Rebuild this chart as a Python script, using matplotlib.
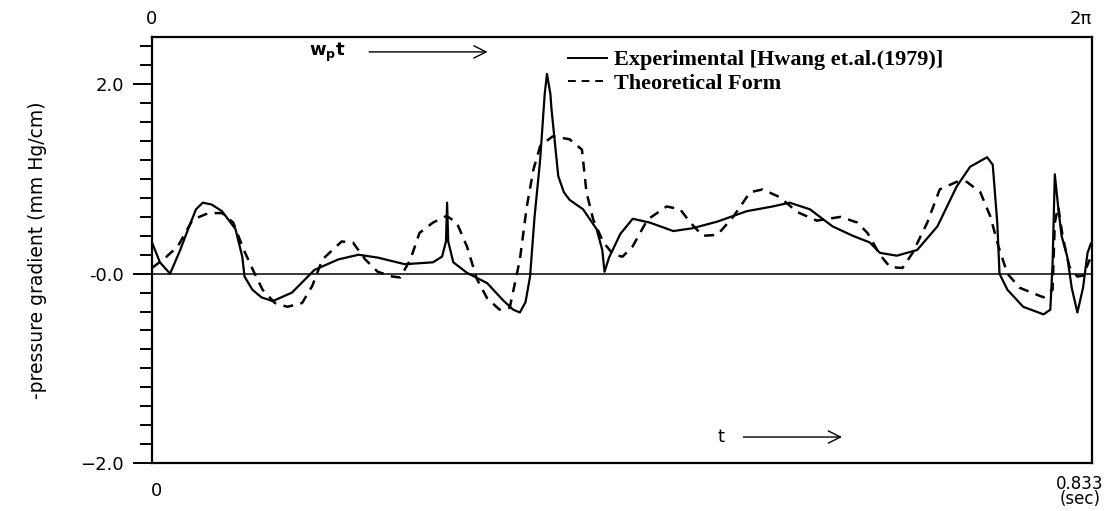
import numpy as np
import matplotlib
matplotlib.use("Agg")
import matplotlib.pyplot as plt
from matplotlib.lines import Line2D
from matplotlib.ticker import FixedLocator, FixedFormatter, MultipleLocator

# experimental curve (time in sec, -dp/dx in mm Hg/cm)
exp_t = [0.000, 0.007, 0.016, 0.025, 0.032, 0.039, 0.045, 0.053, 0.062, 0.069,
         0.074, 0.080, 0.082, 0.089, 0.097, 0.107, 0.124, 0.144, 0.165, 0.183,
         0.200, 0.224, 0.249, 0.257, 0.2605, 0.2615, 0.2625, 0.267, 0.279, 0.297,
         0.311, 0.320, 0.326, 0.331, 0.335, 0.339, 0.344, 0.348, 0.350, 0.353,
         0.354, 0.360, 0.365, 0.370, 0.382, 0.394, 0.399, 0.401, 0.405, 0.409,
         0.415, 0.426, 0.441, 0.462, 0.479, 0.501, 0.527, 0.550, 0.565, 0.583,
         0.603, 0.621, 0.636, 0.645, 0.660, 0.678, 0.696, 0.713, 0.725, 0.740,
         0.745, 0.749, 0.751, 0.758, 0.772, 0.790, 0.796, 0.798, 0.800, 0.803,
         0.806, 0.811, 0.815, 0.820, 0.825, 0.829, 0.832]
exp_p = [0.33, 0.12, 0.00, 0.25, 0.47, 0.68, 0.75, 0.73, 0.66, 0.55,
         0.47, 0.18, -0.03, -0.17, -0.25, -0.29, -0.20, 0.04, 0.15, 0.20,
         0.17, 0.10, 0.12, 0.18, 0.34, 0.75, 0.34, 0.12, 0.01, -0.10,
         -0.28, -0.38, -0.41, -0.30, -0.03, 0.60, 1.21, 1.90, 2.11, 1.90,
         1.74, 1.03, 0.86, 0.78, 0.68, 0.47, 0.25, 0.02, 0.17, 0.27,
         0.42, 0.58, 0.54, 0.45, 0.48, 0.55, 0.66, 0.71, 0.75, 0.68,
         0.50, 0.40, 0.33, 0.22, 0.19, 0.25, 0.50, 0.92, 1.13, 1.23,
         1.15, 0.54, 0.00, -0.17, -0.35, -0.43, -0.38, 0.10, 1.05, 0.70,
         0.40, 0.18, -0.15, -0.41, -0.15, 0.22, 0.32]

# theoretical form
th_t = [0.000, 0.012, 0.023, 0.036, 0.050, 0.062, 0.072, 0.081, 0.091, 0.098,
        0.109, 0.120, 0.133, 0.142, 0.151, 0.168, 0.178, 0.189, 0.200, 0.213,
        0.220, 0.229, 0.237, 0.249, 0.261, 0.270, 0.279, 0.288, 0.297, 0.308,
        0.317, 0.326, 0.332, 0.338, 0.344, 0.355, 0.370, 0.381, 0.385, 0.391,
        0.400, 0.409, 0.417, 0.426, 0.439, 0.456, 0.468, 0.477, 0.488, 0.501,
        0.515, 0.530, 0.541, 0.556, 0.572, 0.589, 0.610, 0.625, 0.634, 0.645,
        0.654, 0.665, 0.674, 0.687, 0.698, 0.713, 0.722, 0.734, 0.743, 0.750,
        0.758, 0.769, 0.790, 0.798, 0.800, 0.803, 0.807, 0.813, 0.820, 0.825,
        0.831]
th_p = [0.06, 0.17, 0.29, 0.57, 0.64, 0.64, 0.54, 0.26, 0.00, -0.17,
        -0.31, -0.35, -0.31, -0.13, 0.15, 0.34, 0.33, 0.15, 0.02, -0.03,
        -0.04, 0.15, 0.43, 0.54, 0.61, 0.54, 0.29, -0.06, -0.26, -0.38,
        -0.36, 0.15, 0.70, 1.10, 1.35, 1.45, 1.42, 1.31, 0.86, 0.57,
        0.33, 0.20, 0.18, 0.29, 0.57, 0.71, 0.68, 0.54, 0.40, 0.41,
        0.60, 0.86, 0.89, 0.81, 0.65, 0.56, 0.60, 0.54, 0.43, 0.20,
        0.07, 0.06, 0.22, 0.54, 0.89, 0.97, 0.97, 0.86, 0.60, 0.29,
        0.00, -0.15, -0.25, -0.17, 0.54, 0.71, 0.39, 0.07, -0.03, -0.02,
        0.15]

y_major = [-2.0, 0.0, 2.0]
y_major_lbls = ["\u22122.0", "-0.0", "2.0"]
T_END = 0.833


def setup_axes(fig):
    ax = fig.add_axes([0.1373, 0.0939, 0.8492, 0.8337])
    ax.set_xlim(0, T_END)
    ax.set_ylim(-2.0, 2.5)
    for s in ax.spines.values():
        s.set_linewidth(1.6)
    ax.yaxis.set_major_locator(FixedLocator(y_major))
    ax.yaxis.set_major_formatter(FixedFormatter(y_major_lbls))
    ax.yaxis.set_minor_locator(MultipleLocator(0.2))
    ax.tick_params(axis="y", which="major", direction="out", length=14,
                   width=1.4, labelsize=13, pad=6)
    ax.tick_params(axis="y", which="minor", direction="out", length=9, width=1.4)
    ax.tick_params(axis="x", which="both", bottom=False, labelbottom=False)
    ax.set_ylabel("-pressure gradient (mm Hg/cm)", fontsize=13.5, labelpad=24)
    return ax


def main():
    fig = plt.figure(figsize=(11.07, 5.11), dpi=100)
    ax = setup_axes(fig)

    ax.axhline(0, color="black", lw=1.1)
    ax.plot(exp_t, exp_p, color="black", lw=1.6, solid_joinstyle="round")
    ax.plot(th_t, th_p, color="black", lw=1.8, dashes=(4, 3))

    # period labels along top and bottom
    ax.text(0, 1.02, "0", transform=ax.transAxes, ha="center", va="bottom", fontsize=13)
    ax.text(1.0, 1.02, "2\u03c0", transform=ax.transAxes, ha="right", va="bottom", fontsize=13)
    ax.text(0.005, -0.045, "0", transform=ax.transAxes, ha="center", va="top", fontsize=13)
    ax.text(0.987, -0.028, "0.833\n(sec)", transform=ax.transAxes, ha="center", va="top",
            fontsize=12, linespacing=0.8)

    # w_p t and t arrows
    ax.text(0.167, 0.965, r"$\mathregular{w_p t}$", transform=ax.transAxes,
            ha="left", va="center", fontsize=13, fontweight="bold")
    ax.annotate("", xy=(0.360, 0.965), xytext=(0.228, 0.965), xycoords="axes fraction",
                arrowprops=dict(arrowstyle="->", lw=1.0, mutation_scale=22))
    ax.text(0.605, 0.061, "t", transform=ax.transAxes, ha="center", va="center", fontsize=13)
    ax.annotate("", xy=(0.737, 0.061), xytext=(0.626, 0.061), xycoords="axes fraction",
                arrowprops=dict(arrowstyle="->", lw=1.0, mutation_scale=22))

    handles = [Line2D([], [], color="black", lw=1.4),
               Line2D([], [], color="black", lw=1.4, dashes=(4, 3))]
    ax.legend(handles, ["Experimental [Hwang et.al.(1979)]", "Theoretical Form"],
              loc="upper left", bbox_to_anchor=(0.4426, 0.97), frameon=False,
              handlelength=1.75, handletextpad=0.3, borderaxespad=0,
              borderpad=0, labelspacing=0.12,
              prop={"family": "Liberation Serif", "weight": "bold", "size": 16})

    fig.savefig("out.png", dpi=100)


main()
